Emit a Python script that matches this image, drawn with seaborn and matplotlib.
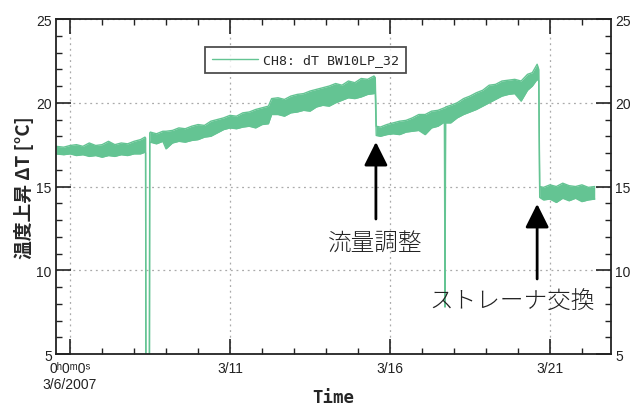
import numpy as np
import pandas as pd
import matplotlib
matplotlib.use("Agg")
import matplotlib.pyplot as plt
from matplotlib.ticker import MultipleLocator, FixedLocator
import seaborn as sns

# ---- data (days since 3/6/2007 00:00) ----
day = [-0.44, -0.2, 0.0, 0.2, 0.4, 0.6, 0.8, 1.0, 1.2, 1.4, 1.6, 1.8, 2.0, 2.2, 2.34,
       2.36, 2.37, 2.48, 2.49,
       2.51, 2.7, 2.9, 3.0, 3.2, 3.4, 3.6, 3.8, 4.0, 4.2, 4.4, 4.6, 4.8, 5.0, 5.2, 5.4, 5.6,
       5.8, 6.0, 6.2, 6.3, 6.5, 6.7, 6.9, 7.1, 7.3, 7.5, 7.7, 7.9, 8.1, 8.3, 8.5, 8.7, 8.9,
       9.1, 9.3, 9.5, 9.54,
       9.57, 9.7, 9.9, 10.1, 10.3, 10.5, 10.7, 10.9, 11.1, 11.3, 11.5, 11.7, 11.72, 11.74,
       11.9, 12.1, 12.3, 12.5, 12.7, 12.9, 13.1, 13.3, 13.5, 13.7, 13.9, 14.1, 14.3, 14.45,
       14.6, 14.65,
       14.68, 14.8, 15.0, 15.2, 15.4, 15.6, 15.8, 16.0, 16.2, 16.4]
upper = [17.4, 17.35, 17.45, 17.5, 17.4, 17.6, 17.45, 17.5, 17.7, 17.5, 17.6, 17.55, 17.7, 17.8, 17.95,
         17.9, 4.0, 4.0, 18.2,
         18.25, 18.15, 18.3, 18.3, 18.35, 18.5, 18.45, 18.6, 18.7, 18.65, 18.9, 19.0, 19.1, 19.25, 19.2,
         19.4, 19.45, 19.6, 19.7, 19.8, 20.25, 20.3, 20.2, 20.4, 20.5, 20.55, 20.7, 20.8, 20.9, 21.0,
         21.15, 21.05, 21.3, 21.2, 21.45, 21.4, 21.6, 21.5,
         18.6, 18.55, 18.7, 18.8, 18.9, 18.95, 19.1, 19.3, 19.3, 19.5, 19.55, 19.7, 19.7, 19.75,
         19.85, 20.0, 20.25, 20.4, 20.6, 20.75, 21.05, 21.1, 21.3, 21.35, 21.4, 21.3, 21.7, 21.8,
         22.3, 22.0,
         15.0, 14.95, 15.1, 15.0, 15.2, 15.05, 15.0, 15.1, 14.95, 15.0]
lower = [16.95, 16.9, 16.95, 16.85, 16.9, 16.8, 16.85, 16.75, 16.85, 16.8, 16.9, 16.85, 16.95, 16.95, 17.05,
         17.0, 4.0, 4.0, 17.6,
         17.65, 17.55, 17.7, 17.25, 17.6, 17.7, 17.65, 17.75, 17.8, 17.95, 18.0, 18.2, 18.4, 18.5, 18.45,
         18.55, 18.6, 18.5, 18.7, 18.75, 19.3, 19.3, 19.2, 19.4, 19.45, 19.55, 19.5, 19.75, 19.85, 19.8,
         20.0, 20.15, 20.3, 20.25, 20.35, 20.5, 20.55, 20.6,
         18.05, 18.0, 18.1, 18.15, 18.1, 18.25, 18.3, 18.35, 18.1, 18.5, 18.6, 18.85, 7.8, 18.8,
         18.8, 19.1, 19.3, 19.45, 19.6, 19.8, 20.0, 20.2, 20.4, 20.5, 20.55, 20.1, 20.75, 21.0,
         21.4, 21.3,
         14.35, 14.2, 14.25, 14.05, 14.3, 14.15, 14.3, 14.1, 14.2, 14.25]

x_tick_pos = [0, 5, 10, 15]
x_tick_labels = ["0\u02b00\u1d500\u02e2\n3/6/2007", "3/11", "3/16", "3/21"]
y_ticks = [5, 10, 15, 20, 25]
series_label = "CH8: dT BW10LP_32"
note1 = "流量調整"
note2 = "ストレーナ交換"

df = pd.DataFrame({"day": day, "upper": upper, "lower": lower})

# ---- style ----
sns.set_theme(style="white")
plt.rcParams["font.family"] = ["Liberation Sans", "DejaVu Sans"]
green = "#64c493"

fig = plt.figure(figsize=(6.3, 4.06), dpi=100)
ax = fig.add_axes([0.0889, 0.1256, 0.881, 0.825])

ax.fill_between(df["day"], df["lower"], df["upper"], color=green, lw=0)
sns.lineplot(data=df, x="day", y="upper", ax=ax, color=green, lw=1.0,
             label=series_label, sort=False, estimator=None)
sns.lineplot(data=df, x="day", y="lower", ax=ax, color=green, lw=1.0,
             sort=False, estimator=None, legend=False)

ax.set_xlim(-0.44, 16.91)
ax.set_ylim(5, 25)

ax.xaxis.set_major_locator(FixedLocator(x_tick_pos))
ax.set_xticklabels(x_tick_labels)
ax.xaxis.set_minor_locator(MultipleLocator(1))
ax.yaxis.set_major_locator(FixedLocator(y_ticks))
ax.yaxis.set_minor_locator(MultipleLocator(1))

ax.tick_params(which="both", direction="in", left=True, right=True, top=True, bottom=True,
               labelright=True, colors="#222222", labelsize=10)
ax.tick_params(which="major", length=11, width=1.2)
ax.tick_params(which="minor", length=4.5, width=1.0)
ax.tick_params(axis="y", pad=3)
ax.tick_params(axis="x", pad=5)

ax.grid(True, which="major", color="#aaaaaa", linestyle=(0, (1.5, 3)), lw=0.9)
for s in ax.spines.values():
    s.set_color("#222222")
    s.set_linewidth(1.3)

ax.set_xlabel("Time", fontfamily="DejaVu Sans Mono", fontweight="bold", fontsize=12.5)
ax.xaxis.set_label_coords(0.5, -0.1)
ax.set_ylabel("温度上昇 ΔT [°C]", fontfamily=["Noto Sans CJK JP", "DejaVu Sans"],
              fontweight="bold", fontsize=13.5)
ax.yaxis.set_label_coords(-0.04, 0.5)

leg = ax.legend(loc="center", bbox_to_anchor=(0.45, 0.878), frameon=True, fancybox=False,
                prop={"family": "DejaVu Sans Mono", "size": 9.5}, handlelength=3.5,
                handletextpad=0.4, borderpad=0.5)
leg.get_frame().set_edgecolor("#222222")
leg.get_frame().set_linewidth(1.3)

arrow = dict(arrowstyle="-|>,head_length=0.8,head_width=0.4", mutation_scale=18,
             lw=2, color="black", shrinkA=0, shrinkB=0)
ax.annotate("", xy=(9.56, 17.66), xytext=(9.56, 13.06), arrowprops=arrow)
ax.annotate("", xy=(14.6, 13.96), xytext=(14.6, 9.48), arrowprops=arrow)
ax.text(9.55, 11.63, note1, ha="center", va="center", fontsize=17, color="#222222",
        fontfamily=["Noto Sans CJK JP", "DejaVu Sans"], fontweight="light")
ax.text(13.81, 8.16, note2, ha="center", va="center", fontsize=17, color="#222222",
        fontfamily=["Noto Sans CJK JP", "DejaVu Sans"], fontweight="light")

fig.savefig("out.png", dpi=100)
